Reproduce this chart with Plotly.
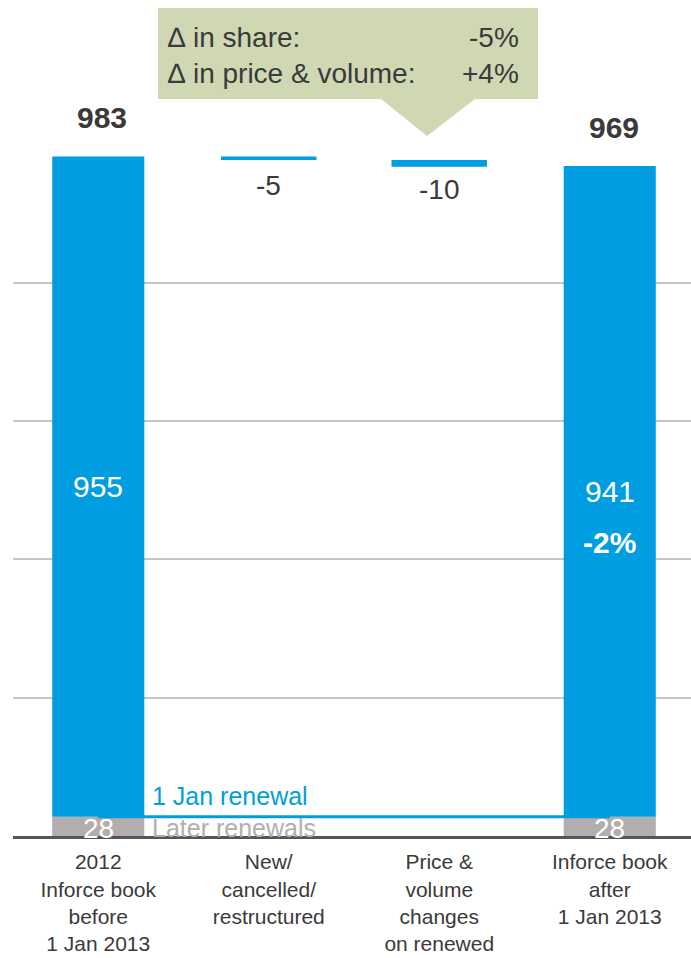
import plotly.graph_objects as go

# ---------------- data ----------------
categories = [
    "2012<br>Inforce book<br>before<br>1 Jan 2013",
    "New/<br>cancelled/<br>restructured",
    "Price &<br>volume<br>changes<br>on renewed",
    "Inforce book<br>after<br>1 Jan 2013",
]
end_positions = [0, 3]          # category index of the two stacked totals
later_renewals = [28, 28]       # grey part
jan_renewal = [955, 941]        # blue part
change_positions = [1, 2]
changes = [-5, -10]
change_pct_label = "-2%"
callout_labels = ["\u2206 in share:", "\u2206 in price & volume:"]
callout_values = ["-5%", "+4%"]
series_names = ["1 Jan renewal", "Later renewals"]

# ---------------- styles ----------------
BLUE = "#009ee0"
GRAY = "#b3aead"
DARK = "#3a3a3a"
CALLOUT = "#d0d8b3"
FONT = "Liberation Sans, Arial, sans-serif"

W, H = 691, 958
ML, MR, MT, MB = 13, 0, 144, 122
plot_w = W - ML - MR
plot_h = H - MT - MB


def px_x(px):
    return (px - ML) / plot_w


def px_y(py):
    return (H - MB - py) / plot_h


totals = [l + j for l, j in zip(later_renewals, jan_renewal)]
change_bases = []
running = totals[0]
for c in changes:
    change_bases.append(running)
    running += c

fig = go.Figure()

# connecting "1 Jan renewal" line at top of the later-renewals part
fig.add_trace(go.Scatter(
    x=end_positions, y=later_renewals, mode="lines",
    line=dict(color=BLUE, width=3), hoverinfo="skip", showlegend=False,
))
fig.add_trace(go.Bar(
    x=end_positions, y=later_renewals, marker=dict(color=GRAY, line=dict(width=0)),
    width=0.54, showlegend=False, name=series_names[1],
))
fig.add_trace(go.Bar(
    x=end_positions, y=jan_renewal, base=later_renewals,
    marker=dict(color=BLUE, line=dict(width=0)),
    width=0.54, showlegend=False, name=series_names[0],
))
fig.add_trace(go.Bar(
    x=change_positions, y=changes, base=change_bases,
    marker=dict(color=BLUE, line=dict(width=0)),
    width=0.56, showlegend=False,
))

ann = []
# totals above bars
for xp, t in zip(end_positions, totals):
    ann.append(dict(x=xp, y=t, text=str(t), showarrow=False, yanchor="bottom",
                    yshift=20, xshift=4,
                    font=dict(size=30, color=DARK, family=FONT, weight="bold")))
# inner blue labels
for xp, l, j in zip(end_positions, later_renewals, jan_renewal):
    ann.append(dict(x=xp, y=l + j / 2, text=str(j), showarrow=False,
                    font=dict(size=30, color="white", family=FONT)))
# grey labels
for xp, l in zip(end_positions, later_renewals):
    ann.append(dict(x=xp, y=l / 2, text=str(l), showarrow=False, yshift=-2,
                    font=dict(size=28, color="white", family=FONT)))
# percent change
ann.append(dict(x=end_positions[1], y=later_renewals[1] + jan_renewal[1] / 2,
                text=change_pct_label, showarrow=False, yshift=-51,
                font=dict(size=30, color="white", family=FONT, weight="bold")))
# change labels (placed below the top of each change bar)
for xp, b, c in zip(change_positions, change_bases, changes):
    ann.append(dict(x=xp, y=b, text=str(c), showarrow=False, yanchor="top",
                    yshift=-12, font=dict(size=28, color=DARK, family=FONT)))
# series labels
ann.append(dict(x=end_positions[0], y=later_renewals[0], text=series_names[0],
                showarrow=False, xanchor="left", yanchor="bottom", xshift=52, yshift=5,
                font=dict(size=25, color=BLUE, family=FONT)))
ann.append(dict(x=end_positions[0], y=later_renewals[0] / 2, text=series_names[1],
                showarrow=False, xanchor="left", yanchor="middle", xshift=52, yshift=-2,
                font=dict(size=25, color=GRAY, family=FONT)))
# callout text
ann.append(dict(xref="paper", yref="paper", x=px_x(166), y=px_y(55),
                text="<br>".join(callout_labels), showarrow=False,
                xanchor="left", yanchor="middle", align="left",
                font=dict(size=28, color=DARK, family=FONT)))
ann.append(dict(xref="paper", yref="paper", x=px_x(521), y=px_y(55),
                text="<br>".join(callout_values), showarrow=False,
                xanchor="right", yanchor="middle", align="right",
                font=dict(size=28, color=DARK, family=FONT)))

shapes = [
    dict(type="path", xref="paper", yref="paper",
         path=(f"M {px_x(158)} {px_y(8)} L {px_x(538)} {px_y(8)} L {px_x(538)} {px_y(99)} "
               f"L {px_x(475)} {px_y(99)} L {px_x(427)} {px_y(136)} L {px_x(381)} {px_y(99)} "
               f"L {px_x(158)} {px_y(99)} Z"),
         fillcolor=CALLOUT, line=dict(width=0), layer="above"),
]

fig.update_layout(
    width=W, height=H,
    margin=dict(l=ML, r=MR, t=MT, b=MB, pad=0),
    paper_bgcolor="white", plot_bgcolor="white",
    barmode="overlay",
    showlegend=False,
    annotations=ann,
    shapes=shapes,
    font=dict(family=FONT, color=DARK),
    xaxis=dict(
        range=[-0.5, -0.5 + plot_w / 170.5],
        tickmode="array", tickvals=list(range(len(categories))), ticktext=categories,
        tickfont=dict(size=21, color=DARK, family=FONT),
        ticklabelstandoff=5, automargin=False,
        showgrid=False, zeroline=False, showline=True,
        linecolor="#555555", linewidth=3, ticks="", fixedrange=True,
    ),
    yaxis=dict(
        range=[0, 1001], dtick=200, tick0=0, automargin=False,
        showticklabels=False, showgrid=True, gridcolor="#c9c5c5", gridwidth=1.5,
        zeroline=False, showline=False, ticks="", fixedrange=True,
    ),
)

fig.write_html("out.html")
